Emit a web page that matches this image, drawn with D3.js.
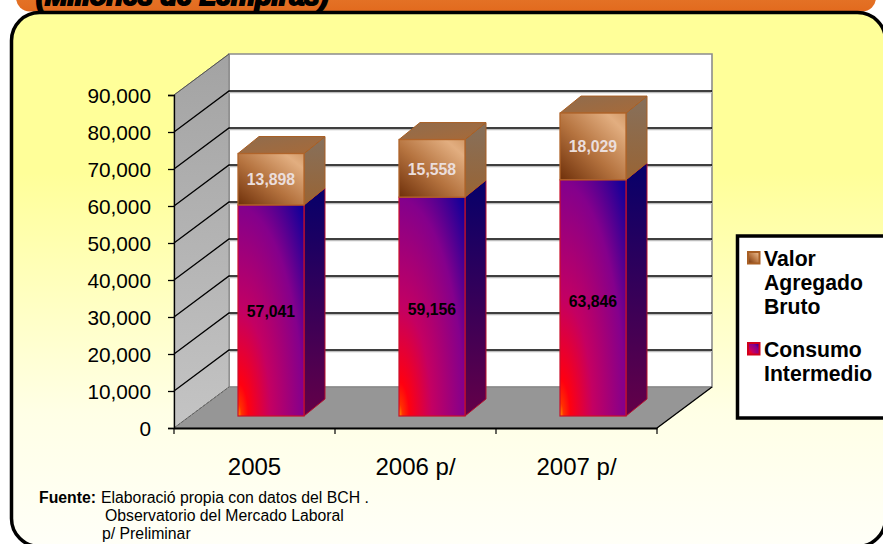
<!DOCTYPE html>
<html><head><meta charset="utf-8">
<script src="https://cdn.jsdelivr.net/npm/d3@7"></script>
<style>html,body{margin:0;padding:0;background:#fff;overflow:hidden}svg{display:block;font-family:"Liberation Sans",Arial,sans-serif}</style>
</head><body><svg id="c" width="883" height="544"></svg>
<script>
const categories = ["2005", "2006 p/", "2007 p/"];
const consumoIntermedio = [57041, 59156, 63846];
const valorAgregado = [13898, 15558, 18029];
const yTicks = [0,10000,20000,30000,40000,50000,60000,70000,80000,90000];
const legendItems = [
  {key:"va", lines:["Valor","Agregado","Bruto"]},
  {key:"ci", lines:["Consumo","Intermedio"]}
];
const titleText = "(Millones de Lempiras)";
const footnotes = [
  {x:101,y:502.5,t:"Elaboració propia con datos del BCH ."},
  {x:105,y:521,t:"Observatorio del Mercado Laboral"},
  {x:102,y:539,t:"p/ Preliminar"}
];

const svg = d3.select("#c");
const defs = svg.append("defs");
function lin(id,x1,y1,x2,y2,stops){
  const g=defs.append("linearGradient").attr("id",id).attr("x1",x1).attr("y1",y1).attr("x2",x2).attr("y2",y2);
  stops.forEach(s=>g.append("stop").attr("offset",s[0]).attr("stop-color",s[1]));
}
lin("panelBg",0,0,0,1,[[0,"#FFFF99"],[0.3,"#FFFF99"],[0.75,"#FFFFE6"],[1,"#FFFFF8"]]);
lin("banner",0,0,0,1,[[0,"#E98A3C"],[1,"#E26A1E"]]);
lin("sideWall",0,0,0,1,[[0,"#A3A3A3"],[1,"#C4C4C4"]]);
lin("vaFront",0,1,1,0,[[0,"#6F300A"],[0.45,"#B5733F"],[0.85,"#E2AE80"],[1,"#D39A68"]]);
lin("vaSide",0,0,0,1,[[0,"#86705C"],[1,"#996434"]]);
lin("vaTop",0,0,1,1,[[0,"#8F6C4E"],[1,"#A86A38"]]);
lin("ciSide",0,0,0,1,[[0,"#06006A"],[1,"#640048"]]);
const rg=defs.append("radialGradient").attr("id","ciFront").attr("cx",0).attr("cy",1).attr("r",1.41).attr("fx",0).attr("fy",1);
[[0,"#FF9A00"],[0.04,"#FF3000"],[0.11,"#FF0010"],[0.35,"#C40062"],[0.7,"#84008C"],[1,"#08009A"]].forEach(s=>rg.append("stop").attr("offset",s[0]).attr("stop-color",s[1]));

// banner + panel
svg.append("rect").attr("x",16).attr("y",-40).attr("width",860).attr("height",51.5).attr("rx",14).attr("fill","url(#banner)");
svg.append("clipPath").attr("id","tc").append("rect").attr("x",0).attr("y",0).attr("width",883).attr("height",11);
svg.append("text").attr("clip-path","url(#tc)").attr("x",36).attr("y",5).attr("font-size",27).attr("font-weight",700).attr("font-style","italic")
  .attr("stroke","#000").attr("stroke-width",2).attr("fill","#000").text(titleText);
svg.append("rect").attr("x",11.5).attr("y",12.5).attr("width",874).attr("height",534).attr("rx",28).attr("fill","url(#panelBg)").attr("stroke","#000").attr("stroke-width",3.5);

// scales
const y = d3.scaleLinear().domain([0,90000]).range([428,95]);
const x = d3.scaleBand().domain(categories).range([174,657]);
const wallD = {dx:55, dy:-41};
const barInset = {dx:17, dy:-12};
const barDepth = {dx:21, dy:-17};
const barW = 66;
const L=x.range()[0], R=x.range()[1], Y0=y(0), Ytop=y(90000);
const pts=a=>a.map(p=>p.join(",")).join(" ");

// walls
svg.append("polygon").attr("points",pts([[L+wallD.dx,Ytop+wallD.dy],[R+wallD.dx,Ytop+wallD.dy],[R+wallD.dx,Y0+wallD.dy],[L+wallD.dx,Y0+wallD.dy]]))
  .attr("fill","#fff").attr("stroke","#8c8c8c").attr("stroke-width",1.6);
svg.append("polygon").attr("points",pts([[L,Ytop],[L+wallD.dx,Ytop+wallD.dy],[L+wallD.dx,Y0+wallD.dy],[L,Y0]]))
  .attr("fill","url(#sideWall)").attr("stroke","#777").attr("stroke-width",.8);
svg.append("polygon").attr("points",pts([[L,Y0],[L+wallD.dx,Y0+wallD.dy],[R+wallD.dx,Y0+wallD.dy],[R,Y0]]))
  .attr("fill","#969696").attr("stroke","#777").attr("stroke-width",.6);

// gridlines
const grid = yTicks.filter(d=>d>0&&d<90000);
svg.append("g").selectAll("line").data(grid).join("line")
  .attr("x1",L+wallD.dx).attr("x2",R+wallD.dx).attr("y1",d=>y(d)+wallD.dy+1.6).attr("y2",d=>y(d)+wallD.dy+1.6).attr("stroke","#bdbdbd").attr("stroke-width",1.2);
svg.append("g").selectAll("path").data(grid).join("path")
  .attr("fill","none").attr("stroke","#000").attr("stroke-width",1.3)
  .attr("d",d=>`M${L},${y(d)}L${L+wallD.dx},${y(d)+wallD.dy}L${R+wallD.dx},${y(d)+wallD.dy}`);
svg.append("line").attr("x1",L).attr("y1",Y0).attr("x2",L+wallD.dx).attr("y2",Y0+wallD.dy).attr("stroke","#555").attr("stroke-width",.8).attr("stroke-dasharray","3 1.5");
svg.append("line").attr("x1",L).attr("y1",Ytop).attr("x2",L+wallD.dx).attr("y2",Ytop+wallD.dy).attr("stroke","#555").attr("stroke-width",1);
svg.append("line").attr("x1",R).attr("y1",Y0).attr("x2",R+wallD.dx).attr("y2",Y0+wallD.dy).attr("stroke","#000").attr("stroke-width",1.3);

// axes
const yAxis = d3.axisLeft(y).tickValues(yTicks).tickSize(6).tickPadding(17).tickFormat(d3.format(","));
const gy = svg.append("g").attr("transform",`translate(${L},0)`).call(yAxis);
gy.selectAll("text").attr("font-size",20.8).attr("font-family","Liberation Sans").attr("fill","#000").attr("dy","0.37em");
gy.selectAll("line,path").attr("stroke","#000").attr("stroke-width",1.3);
const gx = svg.append("g").attr("transform",`translate(0,${Y0})`).call(
  d3.axisBottom(x).tickSizeOuter(0).tickSize(0).tickPadding(30));
gx.selectAll("text").attr("font-size",24).attr("font-family","Liberation Sans").attr("fill","#000");
gx.selectAll("path").attr("stroke","#000").attr("stroke-width",1.8);
svg.append("g").selectAll("line").data(d3.range(categories.length+1)).join("line")
  .attr("x1",i=>L+i*x.bandwidth()).attr("x2",i=>L+i*x.bandwidth()).attr("y1",Y0).attr("y2",Y0+6).attr("stroke","#000").attr("stroke-width",1.2);

// bars
const base = y(0)+barInset.dy;
const h = v => y(0)-y(v);
const bars = svg.append("g").selectAll("g").data(categories).join("g");
bars.each(function(c,i){
  const g=d3.select(this);
  const x0=x(c)+(x.bandwidth()-barW)/2+barInset.dx-0.5, x1=x0+barW;
  const yC=base-h(consumoIntermedio[i]), yT=base-h(consumoIntermedio[i]+valorAgregado[i]);
  const d=barDepth;
  g.append("polygon").attr("points",pts([[x1,yC],[x1+d.dx,yC+d.dy],[x1+d.dx,base+d.dy],[x1,base]]))
    .attr("fill","url(#ciSide)").attr("stroke","#B8102C").attr("stroke-width",1);
  g.append("rect").attr("x",x0).attr("y",yC).attr("width",barW).attr("height",base-yC)
    .attr("fill","url(#ciFront)").attr("stroke","#C8102C").attr("stroke-width",1.2);
  g.append("polygon").attr("points",pts([[x1,yT],[x1+d.dx,yT+d.dy],[x1+d.dx,yC+d.dy],[x1,yC]]))
    .attr("fill","url(#vaSide)").attr("stroke","#A85F24").attr("stroke-width",1);
  g.append("polygon").attr("points",pts([[x0,yT],[x0+d.dx,yT+d.dy],[x1+d.dx,yT+d.dy],[x1,yT]]))
    .attr("fill","url(#vaTop)").attr("stroke","#A85F24").attr("stroke-width",1);
  g.append("rect").attr("x",x0).attr("y",yT).attr("width",barW).attr("height",yC-yT)
    .attr("fill","url(#vaFront)").attr("stroke","#B0642A").attr("stroke-width",1.3);
  const fmt=d3.format(",");
  g.append("text").attr("x",(x0+x1)/2).attr("y",(base+yC)/2+1+i*1.5).attr("dy",".35em").attr("text-anchor","middle")
    .attr("font-size",15.8).attr("font-weight",700).attr("fill","#000").text(fmt(consumoIntermedio[i]));
  g.append("text").attr("x",(x0+x1)/2).attr("y",(yT+yC)/2+(i==1?1:0)).attr("dy",".35em").attr("text-anchor","middle")
    .attr("font-size",15.8).attr("font-weight",700).attr("fill","#EBDEDC").text(fmt(valorAgregado[i]));
});

// legend
svg.append("rect").attr("x",737.5).attr("y",236).attr("width",150).attr("height",182).attr("fill","#fff").attr("stroke","#000").attr("stroke-width",3.5);
const legendY = {va:[265.5,290,314], ci:[357,381]};
const legendMark = {va:["url(#vaFront)","#A85F24",252], ci:["url(#ciFront)","#D0001C",343]};
legendItems.forEach(it=>{
  const m=legendMark[it.key];
  svg.append("rect").attr("x",748).attr("y",m[2]).attr("width",11.5).attr("height",11.5).attr("fill",m[0]).attr("stroke",m[1]).attr("stroke-width",2);
  it.lines.forEach((t,i)=>svg.append("text").attr("x",764).attr("y",legendY[it.key][i]).attr("font-size",21.2).attr("font-weight",700).attr("fill","#000").text(t));
});

// footnote
svg.append("text").attr("x",39).attr("y",502.5).attr("font-size",15.8).attr("font-weight",700).attr("fill","#000").text("Fuente:");
svg.append("g").selectAll("text").data(footnotes).join("text").attr("x",d=>d.x).attr("y",d=>d.y).attr("font-size",15.8).attr("fill","#000").text(d=>d.t);
</script></body></html>
